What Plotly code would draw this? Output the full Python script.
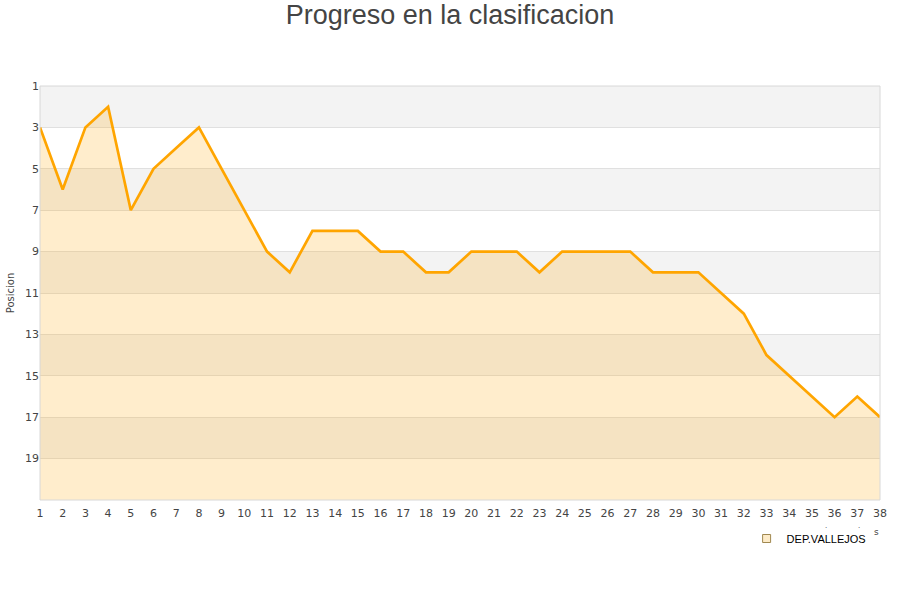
import plotly.graph_objects as go

jornadas = list(range(1, 39))
posicion = [3, 6, 3, 2, 7, 5, 4, 3, 5, 7, 9, 10, 8, 8, 8, 9, 9, 10, 10, 9,
            9, 9, 10, 9, 9, 9, 9, 10, 10, 10, 11, 12, 14, 15, 16, 17, 16, 17]
equipo = "DEP.VALLEJOS"
y_bottom = 21
y_ticks = [1, 3, 5, 7, 9, 11, 13, 15, 17, 19]
band_starts = [1, 5, 9, 13, 17]

fig = go.Figure()
fig.add_trace(go.Scatter(x=jornadas, y=[y_bottom] * len(jornadas), mode="lines",
                         line=dict(width=0), showlegend=False, hoverinfo="skip"))
fig.add_trace(go.Scatter(x=jornadas, y=posicion, mode="lines", name=equipo,
                         fill="tonexty", fillcolor="rgba(255,165,0,0.2)",
                         line=dict(color="#ffa500", width=2.7), showlegend=False))
# legend entry: small square
fig.add_trace(go.Scatter(x=[None], y=[None], mode="markers", name=equipo,
                         marker=dict(symbol="square", size=8, color="#fdebc8",
                                     line=dict(color="#a08850", width=1))))

shapes = []
for b in band_starts:
    shapes.append(dict(type="rect", xref="paper", yref="y", x0=0, x1=1, y0=b, y1=b + 2,
                       fillcolor="#f3f3f3", line=dict(width=0), layer="below"))
shapes.append(dict(type="rect", xref="paper", yref="paper", x0=0, x1=1, y0=0, y1=1,
                   line=dict(color="#d8d8d8", width=1), layer="above"))

fig.update_layout(
    width=900, height=600,
    paper_bgcolor="white", plot_bgcolor="white",
    margin=dict(l=40, r=20, t=86, b=100, autoexpand=False),
    title=dict(text="Progreso en la clasificacion", x=0.5, xanchor="center",
               y=0.975, yanchor="middle",
               font=dict(family="Liberation Sans, Arial", size=27, color="#444444")),
    shapes=shapes,
    showlegend=True,
    legend=dict(orientation="h", x=0.99, xanchor="right", y=-0.058, yanchor="top",
                font=dict(family="Liberation Sans, Arial", size=11, color="#000000"),
                bgcolor="rgba(0,0,0,0)", itemwidth=30),
    font=dict(family="DejaVu Sans", size=11, color="#444444"),
    annotations=[
        dict(text="s", xref="paper", yref="paper", x=1.001, y=-0.094,
             showarrow=False, font=dict(size=9, color="#444444")),
        dict(text=".", xref="paper", yref="paper", x=0.939, y=-0.078,
             showarrow=False, font=dict(size=7, color="#444444")),
        dict(text=".", xref="paper", yref="paper", x=0.978, y=-0.078,
             showarrow=False, font=dict(size=7, color="#444444")),
    ],
)
fig.update_xaxes(range=[1, 38], tickmode="array", tickvals=jornadas,
                 ticktext=[str(j) for j in jornadas], showgrid=False, zeroline=False,
                 showline=False, ticks="", tickfont=dict(size=11, color="#444444"),
                 ticklabelstandoff=5, automargin=False)
fig.update_yaxes(range=[y_bottom, 1], tickmode="array", tickvals=y_ticks,
                 showgrid=True, gridcolor="#e0e0e0", gridwidth=1, zeroline=False,
                 showline=False, ticks="", tickfont=dict(size=11, color="#444444"),
                 automargin=False,
                 title=dict(text="Posicion", font=dict(size=10, color="#444444"), standoff=8))

fig.write_html("out.html", config={"displayModeBar": False},
               post_script="document.body.style.margin='0px';")
